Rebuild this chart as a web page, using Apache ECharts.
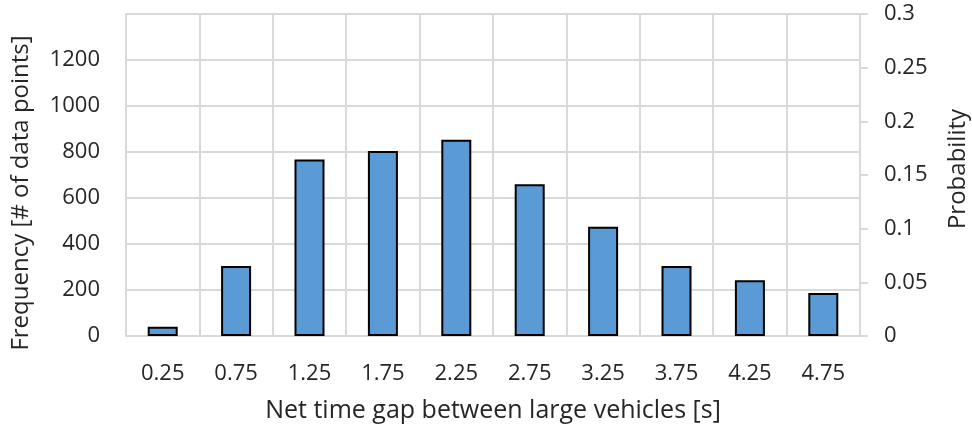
<!DOCTYPE html>
<html>
<head>
<meta charset="utf-8">
<script src="https://cdn.jsdelivr.net/npm/echarts@6/dist/echarts.min.js"></script>
<style>
  html, body { margin: 0; padding: 0; background: #fff; }
  #chart { width: 972px; height: 429px; }
</style>
</head>
<body>
<div id="chart"></div>
<script>
var categories = ['0.25', '0.75', '1.25', '1.75', '2.25', '2.75', '3.25', '3.75', '4.25', '4.75'];
var frequency = [40, 304, 767, 804, 853, 660, 475, 304, 242, 187];
var leftTicks = { min: 0, max: 1400, interval: 200 };
var rightTicks = { min: 0, max: 0.3, interval: 0.05 };

var myChart = echarts.init(document.getElementById('chart'));
var font = '"Open Sans", Lato, sans-serif';
var gridColor = '#d9d9d9';
var textColor = '#262626';

var option = {
	animation: false,
	grid: { left: 126, right: 112, top: 14, bottom: 93, outerBoundsMode: 'none', containLabel: false },
	xAxis: {
		type: 'category',
		data: categories,
		name: 'Net time gap between large vehicles [s]',
		nameLocation: 'middle',
		nameGap: 62,
		nameTextStyle: { fontFamily: font, fontSize: 25, color: textColor },
		axisLine: { show: true, lineStyle: { color: gridColor, width: 2 } },
		axisTick: { show: false },
		axisLabel: { fontFamily: font, fontSize: 22, color: textColor, margin: 27 },
		splitLine: { show: true, interval: 0, lineStyle: { color: gridColor, width: 2 } }
	},
	yAxis: [{
		type: 'value',
		min: leftTicks.min,
		max: leftTicks.max,
		interval: leftTicks.interval,
		name: 'Frequency [# of data points]',
		nameLocation: 'middle',
		nameGap: 93,
		nameTextStyle: { fontFamily: font, fontSize: 24, color: textColor, padding: [0, 36, 0, 0] },
		axisLine: { show: true, lineStyle: { color: gridColor, width: 2 } },
		axisTick: { show: false },
		axisLabel: {
			fontFamily: font, fontSize: 22, color: textColor, margin: 26,
			formatter: function(v) { return v === leftTicks.max ? '' : String(v); }
		},
		splitLine: { show: true, lineStyle: { color: gridColor, width: 2 } }
	}, {
		type: 'value',
		position: 'right',
		min: rightTicks.min,
		max: rightTicks.max,
		interval: rightTicks.interval,
		name: 'Probability',
		nameLocation: 'middle',
		nameGap: 86,
		nameRotate: 90,
		nameTextStyle: { fontFamily: font, fontSize: 24, color: textColor, padding: [0, 0, 0, 12] },
		axisLine: { show: true, lineStyle: { color: gridColor, width: 2 } },
		axisTick: { show: true, length: 8, lineStyle: { color: gridColor, width: 2 } },
		axisLabel: {
			fontFamily: font, fontSize: 22, color: textColor, margin: 24,
			formatter: function(v) { return String(Math.round(v * 100) / 100); }
		},
		splitLine: { show: false }
	}],
	series: [{
		type: 'bar',
		data: frequency,
		barWidth: 30,
		itemStyle: { color: '#5b9bd5', borderColor: '#000', borderWidth: 2 }
	}]
};
myChart.setOption(option);
</script>
</body>
</html>
